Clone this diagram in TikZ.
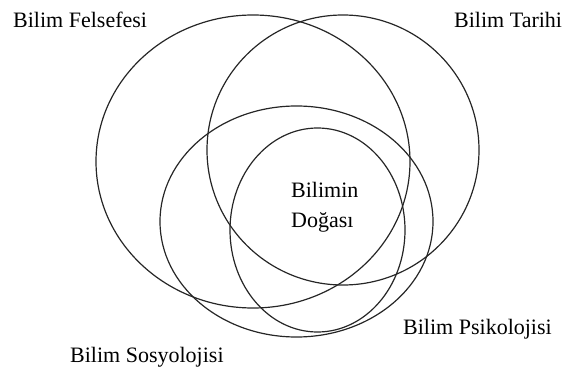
\documentclass[tikz,border=0pt]{standalone}
\usepackage{fontspec}
\setmainfont{Liberation Serif}
\usetikzlibrary{shapes.geometric}
\tikzset{
  field/.style={ellipse, draw=black!85, line width=1.2pt, inner sep=0pt, outer sep=0pt},
  lab/.style={font=\fontsize{22}{30}\selectfont, inner sep=0pt, text=black}
}
\begin{document}
\begin{tikzpicture}[x=1pt,y=-1pt]
\useasboundingbox (0,0) rectangle (567,374);
\node[field, minimum width=314pt, minimum height=293pt] (felsefe) at (253,161.5) {};
\node[field, minimum width=272pt, minimum height=270pt] (tarih) at (343,150) {};
\node[field, minimum width=273pt, minimum height=231pt] (sosyo) at (296.5,221.5) {};
\node[field, minimum width=175pt, minimum height=204pt] (psiko) at (317.5,230) {};
\node[lab, anchor=west] (lfel) at (13,20) {Bilim Felsefesi};
\node[lab, anchor=west] (ltar) at (454,20) {Bilim Tarihi};
\node[lab, anchor=west] (lpsi) at (403,329) {Bilim Psikolojisi};
\node[lab, anchor=west] (lsos) at (70,357) {Bilim Sosyolojisi};
\node[lab, anchor=west, align=left] (ldog) at (291,207) {Bilimin\\Doğası};
\end{tikzpicture}
\end{document}
